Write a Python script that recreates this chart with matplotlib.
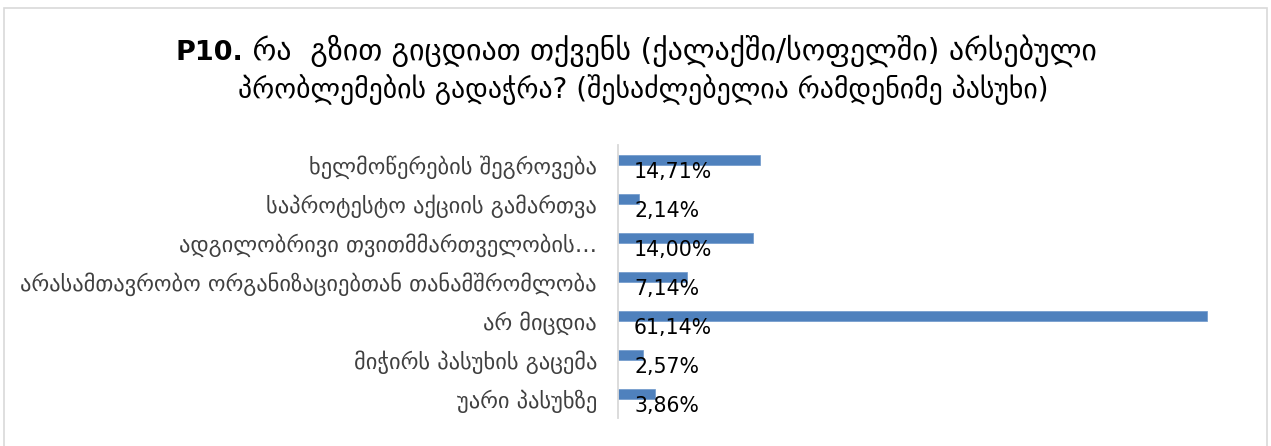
import matplotlib
matplotlib.use("Agg")
import matplotlib.pyplot as plt
from matplotlib.patches import Rectangle
from matplotlib.transforms import offset_copy

categories = [
    "ხელმოწერების შეგროვება",
    "საპროტესტო აქციის გამართვა",
    "ადგილობრივი თვითმმართველობის…",
    "არასამთავრობო ორგანიზაციებთან თანამშრომლობა",
    "არ მიცდია",
    "მიჭირს პასუხის გაცემა",
    "უარი პასუხზე",
]
values = [14.71, 2.14, 14.00, 7.14, 61.14, 2.57, 3.86]
value_labels = ["14,71%", "2,14%", "14,00%", "7,14%", "61,14%", "2,57%", "3,86%"]
title_bold = "P10."
title_line1 = " რა  გზით გიცდიათ თქვენს (ქალაქში/სოფელში) არსებული"
title_line2 = "პრობლემების გადაჭრა? (შესაძლებელია რამდენიმე პასუხი)"

W, H = 1271, 446
DPI = 100
plt.rcParams['font.family'] = ['DejaVu Sans']
fig = plt.figure(figsize=(W / DPI, H / DPI), dpi=DPI)
fig.patch.set_facecolor("white")


def fx(x):
    return x / W


def fy(y):
    return 1 - y / H


# outer border
fig.patches.append(Rectangle((fx(3.5), fy(452)), fx(1267.5) - fx(3.5), fy(7.5) - fy(452),
                             transform=fig.transFigure, fill=False,
                             edgecolor="#d9d9d9", linewidth=1.2, zorder=0))

ax_left, ax_right, ax_top, ax_bot = 618, 1244, 145, 418
ax = fig.add_axes([fx(ax_left), fy(ax_bot), fx(ax_right) - fx(ax_left), fy(ax_top) - fy(ax_bot)])
n = len(categories)
ypos = list(range(n))
ax.barh([y - 0.125 for y in ypos], values, height=0.25, color="#4F81BD",
        edgecolor="#6d97cb", linewidth=0.5)
ax.set_xlim(0, 65)
ax.set_ylim(n - 0.5, -0.5)
ax.set_xticks([])
ax.set_yticks(ypos)
ax.set_yticklabels(categories, fontsize=13, color="#404040")
ax.tick_params(axis='y', length=0, pad=21 * 72 / DPI)
for s in ["top", "right", "bottom"]:
    ax.spines[s].set_visible(False)
ax.spines["left"].set_color("#d9d9d9")
ax.spines["left"].set_linewidth(1.3)

lab_tr = offset_copy(ax.transData, fig=fig, x=16 * 72 / DPI, y=0, units='points')
for y, lab in zip(ypos, value_labels):
    ax.text(0, y + 0.2, lab, transform=lab_tr, fontsize=14.8, color="black",
            va="center", ha="left")

# titles
t_b = fig.text(0, fy(60), title_bold, fontsize=19.5, fontweight="bold", va="baseline", ha="left")
t_1 = fig.text(0, fy(60), title_line1, fontsize=17, va="baseline", ha="left")
t_2 = fig.text(fx(643), fy(98), title_line2, fontsize=17, va="baseline", ha="center")

fig.canvas.draw()
r = fig.canvas.get_renderer()

# scale category labels so the longest spans ~575 px
labs = ax.get_yticklabels()
wmax = max(l.get_window_extent(r).width for l in labs)
for l in labs:
    l.set_fontsize(13 * 575 / wmax)

# scale title line 1 to span 175..1097, line 2 to ~797 px
wb = t_b.get_window_extent(r).width
w1 = t_1.get_window_extent(r).width
w2 = t_2.get_window_extent(r).width
t_1.set_fontsize(17 * (922 - wb) / w1)
t_2.set_fontsize(17 * 810 / w2)
fig.canvas.draw()
wb = t_b.get_window_extent(r).width
start = 175
t_b.set_x(fx(start))
t_1.set_x(fx(start + wb))

fig.savefig("out.png", dpi=DPI, facecolor="white")
